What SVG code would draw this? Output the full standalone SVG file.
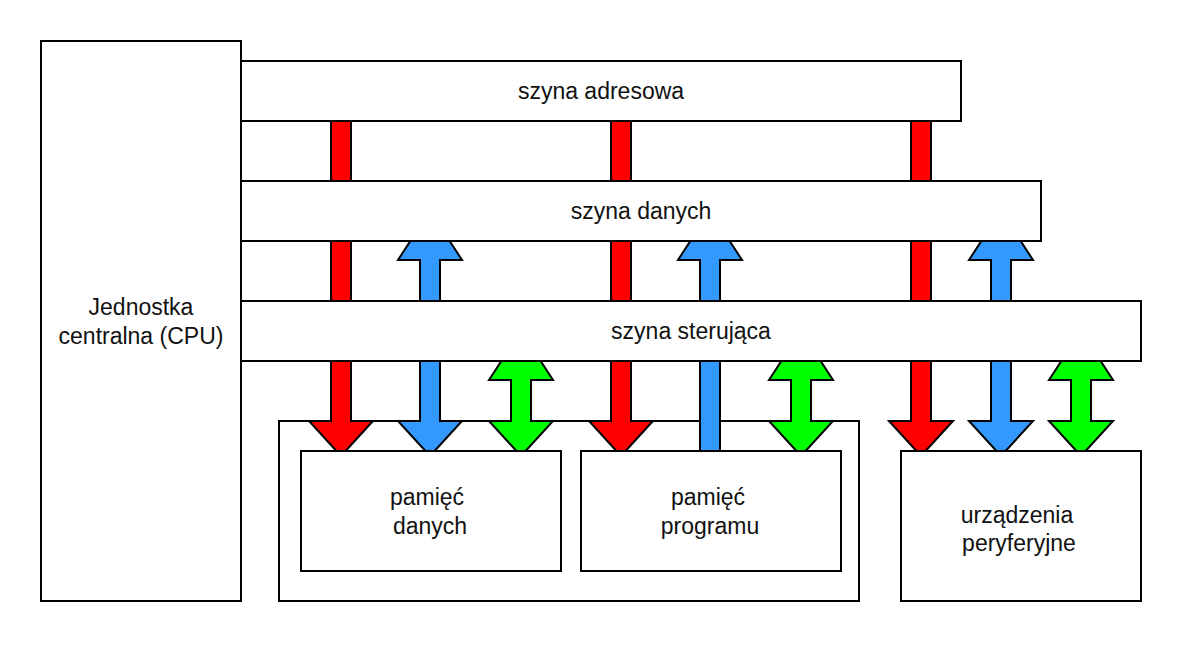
<svg xmlns="http://www.w3.org/2000/svg" width="1182" height="662" viewBox="0 0 1182 662">
<style>
.box{fill:#fff;stroke:#000;stroke-width:2}
.t{font-family:"Liberation Sans",Arial,sans-serif;font-size:23px;fill:#111;text-anchor:middle}
.r{fill:#ff0000;stroke:#000;stroke-width:2;stroke-linejoin:miter}
.b{fill:#3399ff;stroke:#000;stroke-width:2;stroke-linejoin:miter}
.g{fill:#00ff00;stroke:#000;stroke-width:2;stroke-linejoin:miter}
</style>
<rect width="1182" height="662" fill="#fff"/>
<g id="cpu">
<rect class="box" x="41" y="41" width="200" height="560"/>
<text class="t" x="141" y="315">Jednostka</text>
<text class="t" x="141" y="344">centralna (CPU)</text>
</g>
<g id="memory-group">
<rect class="box" x="279" y="421" width="580" height="180"/>
</g>
<g id="connectors">
<rect class="r" x="331" y="119" width="20" height="64"/>
<rect class="r" x="611" y="119" width="20" height="64"/>
<rect class="r" x="911" y="119" width="20" height="64"/>
<rect class="r" x="331" y="239" width="20" height="64"/>
<rect class="r" x="611" y="239" width="20" height="64"/>
<rect class="r" x="911" y="239" width="20" height="64"/>
<polygon class="b" points="420,303 420,260 398,260 411,240 449,240 462,260 440,260 440,303"/>
<polygon class="b" points="700,303 700,260 678,260 691,240 729,240 742,260 720,260 720,303"/>
<polygon class="b" points="991,303 991,260 969,260 982,240 1020,240 1033,260 1011,260 1011,303"/>
<polygon class="r" points="331,359 351,359 351,421 373,421 341,456 309,421 331,421"/>
<polygon class="r" points="611,359 631,359 631,421 653,421 621,456 589,421 611,421"/>
<polygon class="r" points="911,359 931,359 931,421 953,421 921,456 889,421 911,421"/>
<polygon class="b" points="420,359 440,359 440,421 462,421 430,456 398,421 420,421"/>
<rect class="b" x="700" y="359" width="20" height="94"/>
<polygon class="b" points="991,359 1011,359 1011,421 1033,421 1001,456 969,421 991,421"/>
<polygon class="g" points="502,360 540,360 553,380 531,380 531,421 553,421 521,456 489,421 511,421 511,380 489,380"/>
<polygon class="g" points="782,360 820,360 833,380 811,380 811,421 833,421 801,456 769,421 791,421 791,380 769,380"/>
<polygon class="g" points="1062,360 1100,360 1113,380 1091,380 1091,421 1113,421 1081,456 1049,421 1071,421 1071,380 1049,380"/>
</g>
<g id="address-bus">
<rect class="box" x="241" y="61" width="720" height="60"/>
<text class="t" x="601" y="99">szyna adresowa</text>
</g>
<g id="data-bus">
<rect class="box" x="241" y="181" width="800" height="60"/>
<text class="t" x="641" y="219">szyna danych</text>
</g>
<g id="control-bus">
<rect class="box" x="241" y="301" width="900" height="60"/>
<text class="t" x="691" y="339">szyna sterująca</text>
</g>
<g id="data-memory">
<rect class="box" x="301" y="451" width="260" height="120"/>
<text class="t" x="427" y="505">pamięć</text>
<text class="t" x="430" y="534">danych</text>
</g>
<g id="program-memory">
<rect class="box" x="581" y="451" width="260" height="120"/>
<text class="t" x="708" y="505">pamięć</text>
<text class="t" x="710" y="534">programu</text>
</g>
<g id="peripherals">
<rect class="box" x="901" y="451" width="240" height="150"/>
<text class="t" x="1017" y="523">urządzenia</text>
<text class="t" x="1019" y="551">peryferyjne</text>
</g>
</svg>
